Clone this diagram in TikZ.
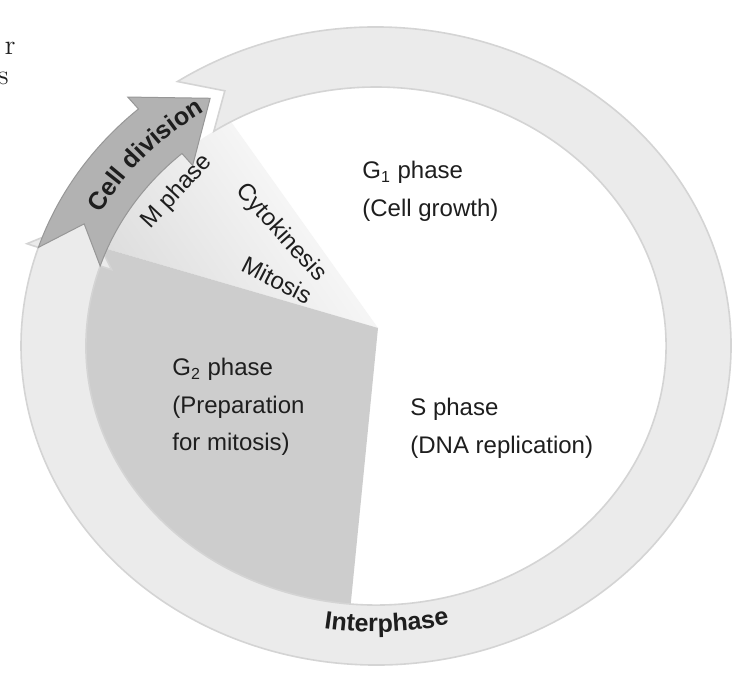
\documentclass[tikz,border=0pt]{standalone}
\usepackage{fontspec}
\newfontfamily\labelfont{Liberation Sans}
\usetikzlibrary{decorations.text}
\definecolor{ringgrey}{HTML}{EBEBEB}
\definecolor{ringedge}{HTML}{D4D4D4}
\definecolor{divgrey}{HTML}{B2B2B2}
\definecolor{gtwogrey}{HTML}{CDCDCD}
\definecolor{mgrey}{HTML}{DEDEDE}
\definecolor{ink}{HTML}{1E1E1E}
\tikzset{
    phase/.style={font=\labelfont\fontsize{12}{18.75}\selectfont, text=ink, align=left, inner sep=0pt, anchor=north west},
    sublabel/.style={font=\labelfont\fontsize{12}{14}\selectfont, text=ink, inner sep=0pt},
    fragment/.style={font=\fontsize{14}{16}\selectfont, text=ink, inner sep=0pt, anchor=base east},
    band/.style={fill=ringgrey, draw=ringedge, line width=0.8pt},
    divband/.style={fill=divgrey, draw=divgrey!85!black, line width=0.5pt},
    wedge/.style={fill=gtwogrey}
}

\begin{document}
\begin{tikzpicture}[x=0.5pt, y=0.5pt]
\useasboundingbox (0,0) rectangle (744,-679);
\fill[white] (0,0) rectangle (744,-679);

% Centre of the ring, apex of the sectors
\coordinate (c) at (376,-346);
\coordinate (apex) at (378,-328);
\coordinate (g2top) at ([shift={(c)}]158:290 and 259);

% M phase sector
\path[top color=white, bottom color=mgrey, shading angle=-55]
    (apex) -- (g2top) arc[start angle=158, end angle=120, x radius=290, y radius=259] -- cycle;

% G2 wedge
\fill[wedge] (apex) -- (g2top) arc[start angle=158, end angle=265, x radius=290, y radius=259] -- cycle;

% Interphase ring
\path[band] ([shift={(c)}]124:355 and 319) arc[start angle=124, end angle=-198, x radius=355, y radius=319]
    -- ([shift={(c)}]-198:367 and 331) -- ([shift={(c)}]-206:322 and 289) -- ([shift={(c)}]-198:278 and 247)
    -- ([shift={(c)}]-198:290 and 259) arc[start angle=-198, end angle=124, x radius=290, y radius=259]
    -- ([shift={(c)}]118:322 and 289) -- cycle;

% Cell division arrow
\path[divband] ([shift={(c)}]162:355 and 319) arc[start angle=162, end angle=132, x radius=355, y radius=319]
    -- ([shift={(c)}]132:371 and 335) -- ([shift={(c)}]121:322 and 289) -- ([shift={(c)}]132:274 and 243)
    -- ([shift={(c)}]132:290 and 259) arc[start angle=132, end angle=162, x radius=290, y radius=259]
    -- ([shift={(c)}]155:322 and 289) -- cycle;

% Labels on the ring
\path[decorate, decoration={text along path, text align=center, text color=ink,
    text={|\labelfont\bfseries\fontsize{12.5}{15}\selectfont|Cell division}}]
    ([shift={(c)}]154:313 and 280) arc[start angle=154, end angle=121, x radius=313, y radius=280];
\path[decorate, decoration={text along path, text align=center, text color=ink,
    text={|\labelfont\bfseries\fontsize{12.5}{15}\selectfont|Interphase}}]
    ([shift={(c)}]-110:319 and 286) arc[start angle=-110, end angle=-66, x radius=319, y radius=286];

% Phase labels
\node[phase] (g1) at (362,-161) {G\textsubscript{1} phase\\(Cell growth)};
\node[phase] (g2) at (172,-358) {G\textsubscript{2} phase\\(Preparation\\for mitosis)};
\node[phase] (sph) at (410,-398) {S phase\\(DNA replication)};
\node[sublabel, rotate=47] (mph) at (177,-192) {M phase};
\node[sublabel, rotate=-48] (cyto) at (281,-233) {Cytokinesis};
\node[sublabel, rotate=-27] (mito) at (277,-280) {Mitosis};

% Text cut off at the page edge
\node[fragment] (fragr) at (16,-55) {r};
\node[fragment] (frags) at (9,-85) {s};

\end{tikzpicture}
\end{document}
